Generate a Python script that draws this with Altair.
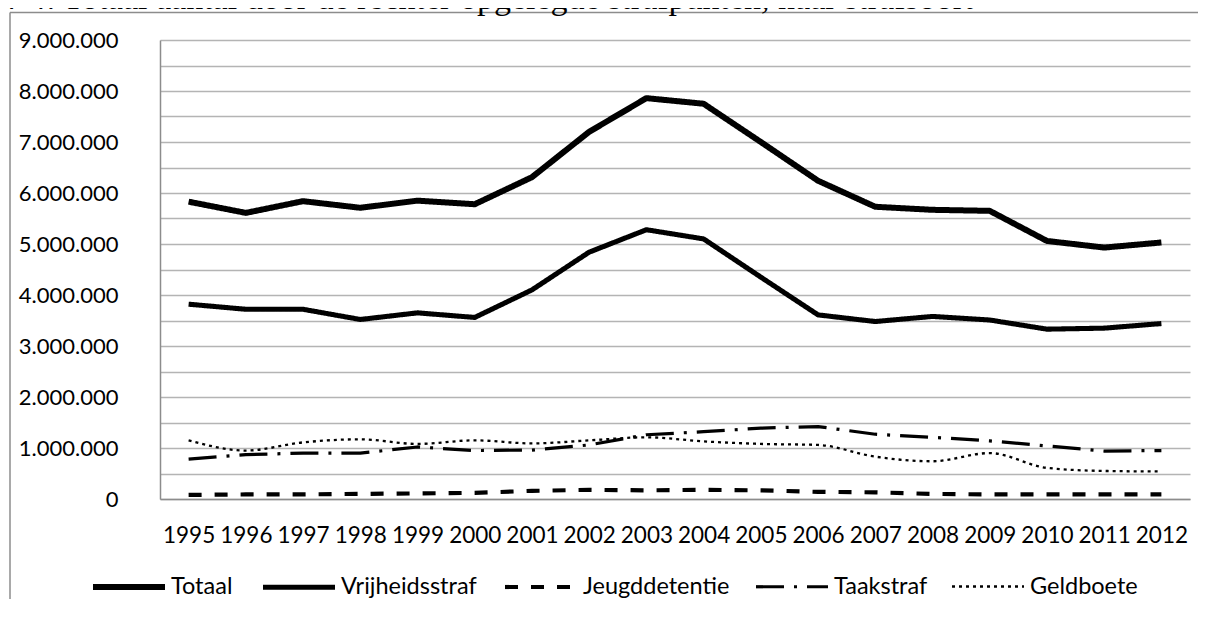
import altair as alt
import pandas as pd

years = [str(y) for y in range(1995, 2013)]
series = ["Totaal", "Vrijheidsstraf", "Jeugddetentie", "Taakstraf", "Geldboete"]

totaal = [5830000, 5610000, 5840000, 5710000, 5850000, 5780000, 6310000, 7200000, 7860000,
          7750000, 7000000, 6240000, 5730000, 5670000, 5650000, 5060000, 4930000, 5030000]
vrijheidsstraf = [3820000, 3720000, 3720000, 3520000, 3650000, 3560000, 4100000, 4840000, 5280000,
                  5100000, 4350000, 3610000, 3480000, 3580000, 3510000, 3330000, 3350000, 3440000]
jeugddetentie = [80000, 90000, 90000, 100000, 110000, 120000, 160000, 180000, 170000,
                 180000, 170000, 140000, 130000, 100000, 90000, 90000, 90000, 90000]
taakstraf = [780000, 870000, 900000, 900000, 1020000, 950000, 960000, 1060000, 1260000,
             1320000, 1390000, 1420000, 1270000, 1210000, 1140000, 1040000, 940000, 950000]
geldboete = [1150000, 950000, 1110000, 1170000, 1080000, 1150000, 1090000, 1150000, 1210000,
             1130000, 1080000, 1060000, 830000, 740000, 900000, 610000, 550000, 540000]

y_ticks = [0, 500000, 1000000, 1500000, 2000000, 2500000, 3000000, 3500000, 4000000,
           4500000, 5000000, 5500000, 6000000, 6500000, 7000000, 7500000, 8000000, 8500000, 9000000]

title_a = "Figuur 4."
title_b = "Totaal aantal door de rechter opgelegde strafpunten, naar strafsoort"

dash_range = [[1, 0], [1, 0], [13, 13], [28, 10, 3, 10], [3, 4]]
width_range = [6, 2.3, 3.6, 3.6, 3.2]

rows = []
for name, vals in zip(series, [totaal, vrijheidsstraf, jeugddetentie, taakstraf, geldboete]):
    for yr, v in zip(years, vals):
        rows.append({"jaar": yr, "serie": name, "waarde": v})
df = pd.DataFrame(rows)

x_enc = alt.X("jaar:N", sort=years,
              scale=alt.Scale(type="point", padding=0.5),
              axis=alt.Axis(title=None, labelAngle=0, ticks=False, domainColor="#8c8c8c",
                            domainWidth=1.5, labelFontSize=22.5, labelPadding=25,
                            labelColor="#000000", grid=False))
y_enc = alt.Y("waarde:Q",
              scale=alt.Scale(domain=[0, 9000000], nice=False),
              axis=alt.Axis(title=None, values=y_ticks, ticks=False, domainColor="#8c8c8c",
                            domainWidth=1.5, gridColor="#b4b4b4", gridWidth=1.3,
                            labelFontSize=22, labelPadding=42, labelColor="#000000",
                            labelExpr="datum.value % 1000000 != 0 ? '' : (datum.value == 0 ? '0' : format(datum.value / 1000000, 'd') + '.000.000')"))

legend_def = alt.Legend(title=None, orient="none", legendX=-70, legendY=508,
                        direction="horizontal", columns=5,
                        symbolType="stroke", symbolSize=5184,
                        symbolStrokeColor="#000000",
                        labelFontSize=23.5, labelColor="#000000",
                        labelOffset=3, columnPadding=19)

dash_enc = alt.StrokeDash("serie:N", scale=alt.Scale(domain=series, range=dash_range),
                          legend=legend_def)
width_enc = alt.StrokeWidth("serie:N", scale=alt.Scale(domain=series, range=width_range),
                            legend=legend_def)

base = alt.Chart(df)
lines_straight = base.transform_filter(alt.datum.serie != "Geldboete").mark_line(
    color="#000000", strokeJoin="round").encode(
    x=x_enc, y=y_enc, strokeDash=dash_enc, strokeWidth=width_enc, detail="serie:N")
lines_smooth = base.transform_filter(alt.datum.serie == "Geldboete").mark_line(
    color="#000000", interpolate="monotone").encode(
    x=x_enc, y=y_enc, strokeDash=dash_enc, strokeWidth=width_enc, detail="serie:N")

one = pd.DataFrame({"k": [0]})
frame_top = alt.Chart(one).mark_rule(stroke="#8c8c8c", strokeWidth=1.5).encode(
    x=alt.value(-150), x2=alt.value(1046), y=alt.value(-27.5))
frame_left = alt.Chart(one).mark_rule(stroke="#8c8c8c", strokeWidth=1.5).encode(
    x=alt.value(-150), y=alt.value(-27.5), y2=alt.value(580))
t1 = alt.Chart(one).mark_text(align="right", baseline="alphabetic", font="Liberation Serif",
                              fontSize=34, fontStyle="italic", color="#000000").encode(
    x=alt.value(-104), y=alt.value(-31), text=alt.value(title_a))
t2 = alt.Chart(one).mark_text(align="left", baseline="alphabetic", font="Liberation Serif",
                              fontSize=34, color="#000000").encode(
    x=alt.value(-97), y=alt.value(-31), text=alt.value(title_b))

chart = alt.layer(frame_top, frame_left, lines_straight, lines_smooth, t1, t2).properties(
    width=1030, height=459,
    padding={"left": 152, "top": 32, "right": 8, "bottom": 100},
    autosize=alt.AutoSizeParams(type="none"),
).configure(font="Lato").configure_view(stroke=None)

chart.save("out.html", embed_options={"renderer": "svg", "actions": False})
